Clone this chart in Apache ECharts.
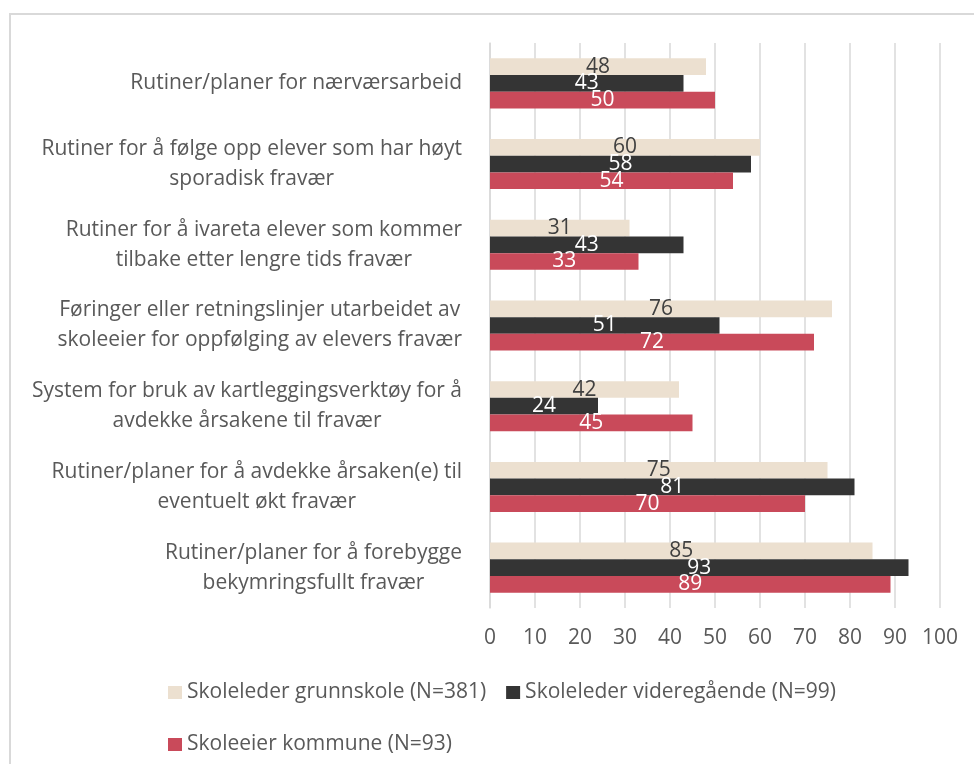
<!DOCTYPE html>
<html>
<head>
<meta charset="utf-8">
<script src="https://cdn.jsdelivr.net/npm/echarts@6/dist/echarts.min.js"></script>
<style>
  html, body { margin: 0; padding: 0; background: #fff; }
  #chart { width: 974px; height: 764px; }
</style>
</head>
<body>
<div id="chart"></div>
<script>
// kategorier (ovenfra og ned)
const categories = [
  'Rutiner/planer for nærværsarbeid',
  'Rutiner for å følge opp elever som har høyt\nsporadisk fravær',
  'Rutiner for å ivareta elever som kommer\ntilbake etter lengre tids fravær',
  'Føringer eller retningslinjer utarbeidet av\nskoleeier for oppfølging av elevers fravær',
  'System for bruk av kartleggingsverktøy for å\navdekke årsakene til fravær',
  'Rutiner/planer for å avdekke årsaken(e) til\neventuelt økt fravær',
  'Rutiner/planer for å forebygge\nbekymringsfullt fravær'
]

const seriesNames = [
  'Skoleleder grunnskole (N=381)',
  'Skoleleder videregående (N=99)',
  'Skoleeier kommune (N=93)'
]

const grunnskole = [48, 60, 31, 76, 42, 75, 85]
const videregaende = [43, 58, 43, 51, 24, 81, 93]
const kommune = [50, 54, 33, 72, 45, 70, 89]

const xTicks = [0, 10, 20, 30, 40, 50, 60, 70, 80, 90, 100]

const FONT = 'Open Sans'
const TXT = '#595959'
const FS = 21

const chart = echarts.init(document.getElementById('chart'))

function bar(name, data, color, labelColor) {
  return {
    name: name,
    type: 'bar',
    data: data,
    barGap: '0%',
    barCategoryGap: '38%',
    itemStyle: { color: color },
    label: {
      show: true,
      position: 'inside',
      color: labelColor,
      fontFamily: FONT,
      fontSize: FS
    }
  }
}

const legendBase = {
  left: 168,
  padding: 0,
  itemWidth: 14,
  itemHeight: 13,
  itemGap: 20,
  icon: 'rect',
  textStyle: { color: TXT, fontSize: FS, fontFamily: FONT }
}

chart.setOption({
  animation: false,
  textStyle: { fontFamily: FONT },
  graphic: [{
    type: 'rect',
    shape: { x: 10, y: 14, width: 1000, height: 800 },
    style: { fill: 'none', stroke: '#d9d9d9', lineWidth: 2 },
    silent: true
  }],
  grid: { left: 490, right: 34, top: 43, bottom: 156 },
  xAxis: {
    type: 'value',
    min: xTicks[0],
    max: xTicks[xTicks.length - 1],
    interval: 10,
    axisLine: { show: false },
    axisTick: { show: false },
    splitLine: { lineStyle: { color: '#d9d9d9', width: 1.5 } },
    axisLabel: { color: TXT, fontSize: FS, fontFamily: FONT, margin: 20 }
  },
  yAxis: {
    type: 'category',
    inverse: true,
    data: categories,
    axisLine: { show: true, lineStyle: { color: '#d9d9d9', width: 1.5 } },
    axisTick: { show: false },
    axisLabel: {
      margin: 28,
      formatter: function (v) {
        return v.split('\n').map(function (s) { return '{c|' + s + '}' }).join('\n')
      },
      rich: {
        c: { align: 'center', color: TXT, fontSize: FS, fontFamily: FONT, lineHeight: 30 }
      }
    }
  },
  legend: [
    Object.assign({}, legendBase, { data: [seriesNames[0], seriesNames[1]], top: 682 }),
    Object.assign({}, legendBase, { data: [seriesNames[2]], top: 734 })
  ],
  series: [
    bar(seriesNames[0], grunnskole, '#ece0d0', '#404040'),
    bar(seriesNames[1], videregaende, '#343434', '#ffffff'),
    bar(seriesNames[2], kommune, '#c94a5a', '#ffffff')
  ]
})
</script>
</body>
</html>
